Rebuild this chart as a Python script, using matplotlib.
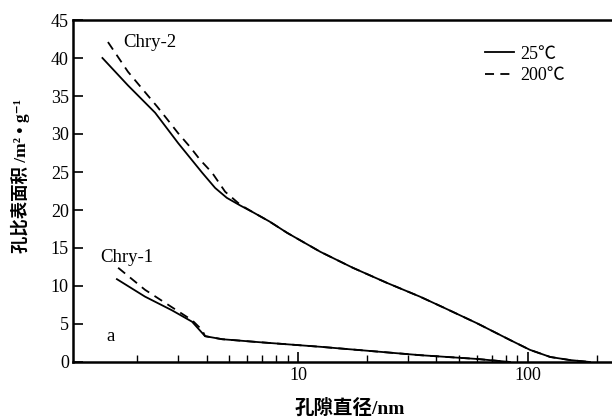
import matplotlib
matplotlib.use("Agg")
import matplotlib.pyplot as plt
from matplotlib.ticker import LogLocator, NullFormatter, FixedLocator, FixedFormatter

# ---- data ----
chry2_25_x = [1.41, 1.82, 2.39, 3.01, 3.83, 4.36, 4.9, 5.6, 6.37, 7.5, 8.96, 12.5, 17.3, 24.4, 33.9, 42.7, 60.0, 83.5, 102, 125, 152, 186]
chry2_25_y = [40.0, 36.4, 32.8, 28.8, 24.9, 22.9, 21.6, 20.6, 19.7, 18.5, 17.0, 14.5, 12.4, 10.4, 8.6, 7.2, 5.1, 2.9, 1.6, 0.66, 0.26, 0.0]

chry2_200_x = [1.49, 1.82, 2.12, 2.44, 2.72, 3.01, 3.39, 3.75, 4.23, 4.82, 5.6, 6.37, 7.5, 8.96, 12.5, 17.3, 24.4, 33.9, 42.7, 60.0, 83.5, 102, 125, 152, 186]
chry2_200_y = [42.1, 38.2, 35.8, 33.6, 31.8, 30.1, 28.3, 26.6, 24.9, 22.4, 20.7, 19.7, 18.5, 17.0, 14.5, 12.4, 10.4, 8.6, 7.2, 5.1, 2.9, 1.6, 0.66, 0.26, 0.0]

chry1_25_x = [1.63, 2.16, 2.83, 3.46, 3.94, 4.67, 6.83, 12.5, 33.9, 60.0, 83.5]
chry1_25_y = [10.9, 8.6, 6.8, 5.3, 3.4, 3.0, 2.6, 2.0, 0.9, 0.4, 0.0]

chry1_200_x = [1.65, 2.16, 2.83, 3.46, 3.83, 3.94, 4.67, 6.83, 12.5, 33.9, 60.0, 83.5]
chry1_200_y = [12.4, 9.5, 7.2, 5.5, 4.2, 3.4, 3.0, 2.6, 2.0, 0.9, 0.4, 0.0]

series_labels = ["25\u2103", "200\u2103"]
x_ticks = [10, 100]
x_tick_labels = ["10", "100"]
y_ticks = [0, 5, 10, 15, 20, 25, 30, 35, 40, 45]

serif = ["Liberation Serif", "Noto Sans CJK SC", "DejaVu Sans"]

fig = plt.figure(figsize=(6.12, 4.19), dpi=100)
ax = fig.add_axes([73 / 612, 1 - 362 / 419, 1 - 73 / 612, (362 - 20) / 419])

lw = 1.3
ax.plot(chry2_25_x, chry2_25_y, color="black", lw=lw, label=series_labels[0])
ax.plot(chry2_200_x, chry2_200_y, color="black", lw=lw, dashes=(5, 3.5), label=series_labels[1])
ax.plot(chry1_25_x, chry1_25_y, color="black", lw=lw)
ax.plot(chry1_200_x, chry1_200_y, color="black", lw=lw, dashes=(5, 3.5))

ax.set_xscale("log")
ax.set_xlim(1.05, 232)
ax.set_ylim(0, 45)

ax.xaxis.set_major_locator(FixedLocator(x_ticks))
ax.xaxis.set_major_formatter(FixedFormatter(x_tick_labels))
ax.xaxis.set_minor_locator(LogLocator(base=10, subs=[2, 3, 4, 5, 6, 7, 8, 9]))
ax.xaxis.set_minor_formatter(NullFormatter())
ax.set_yticks(y_ticks)

ax.tick_params(axis="both", which="major", direction="in", length=7, width=1.2, labelsize=13)
ax.tick_params(axis="x", which="minor", direction="in", length=5, width=1.0)
ax.tick_params(axis="y", which="major", pad=3)
for lab in ax.get_xticklabels() + ax.get_yticklabels():
    lab.set_fontfamily(serif)

for side in ["left", "bottom", "top"]:
    ax.spines[side].set_linewidth(1.8)
ax.spines["right"].set_visible(False)

ax.text(1.73, 42.1, "Chry-2", fontsize=13.5, family=serif, ha="left", va="center")
ax.text(1.38, 13.8, "Chry-1", fontsize=13.5, family=serif, ha="left", va="center")
ax.text(1.47, 3.4, "a", fontsize=13.5, family=serif, ha="left", va="center")

leg = ax.legend(loc="upper left", bbox_to_anchor=(0.764, 0.925), frameon=False,
                handlelength=1.6, handletextpad=0.35, labelspacing=0.25,
                borderpad=0, borderaxespad=0, prop={"family": serif, "size": 13})

fig.text(20 / 612, 1 - 176 / 419, "孔比表面积 /m² • g⁻¹", rotation=90, ha="center", va="center",
         fontsize=12.5, family=serif, fontweight="bold")
fig.text(350 / 612, 1 - 408 / 419, "孔隙直径/nm", ha="center", va="center",
         fontsize=14, family=serif, fontweight="bold")

fig.savefig("out.png", dpi=100)
